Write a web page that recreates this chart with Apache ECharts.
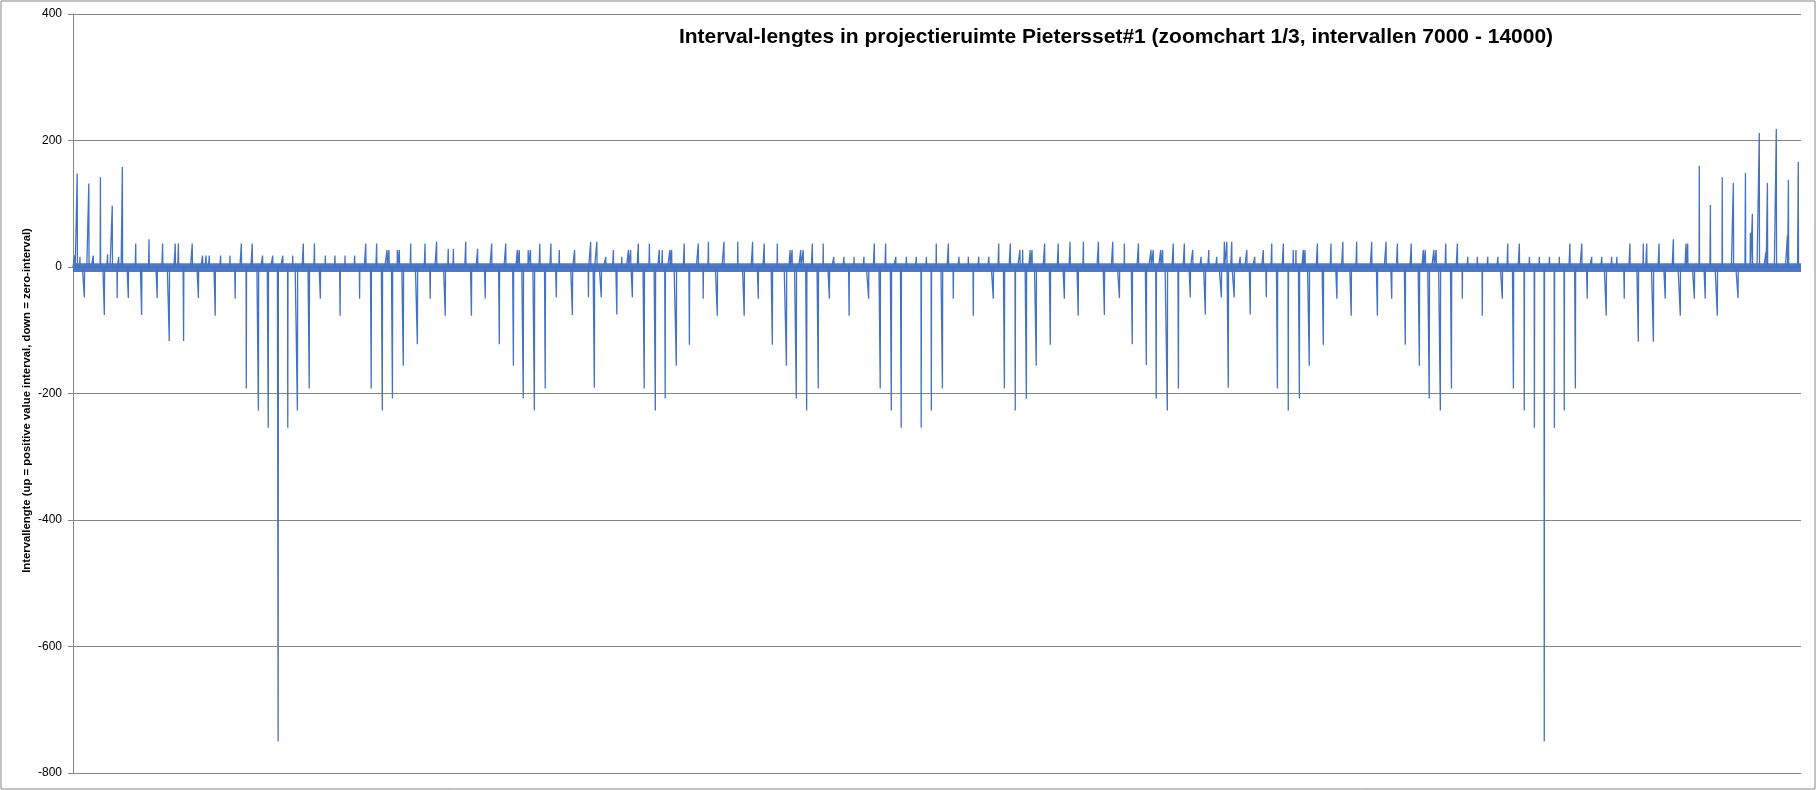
<!DOCTYPE html>
<html>
<head>
<meta charset="utf-8">
<title>Interval-lengtes Pietersset#1</title>
<script src="https://cdn.jsdelivr.net/npm/echarts@6/dist/echarts.min.js"></script>
<style>
	html, body { margin: 0; padding: 0; background: #fff; }
	#chart { width: 1816px; height: 790px; }
</style>
</head>
<body>
<div id="chart"></div>
<script>
// interval range shown on the x axis
var firstInterval = 7000;
var lastInterval = 14000;

// y axis ticks
var yMin = -800;
var yMax = 400;
var yStep = 200;

// deep downward spikes (zero-intervals): [interval, length]
var spikesDown = [
	[7046, -48], [7127, -76], [7179, -49], [7224, -49], [7278, -76], [7341, -49], [7390, -117], [7448, -117],
	[7508, -49], [7576, -77], [7657, -50], [7702, -192], [7751, -227], [7791, -254], [7831, -750], [7870, -254],
	[7909, -227], [7957, -192], [8002, -50], [8082, -77], [8161, -50], [8208, -192], [8253, -227], [8294, -208],
	[8338, -156], [8395, -122], [8447, -50], [8508, -77], [8614, -77], [8670, -50], [8727, -122], [8784, -156],
	[8824, -208], [8869, -227], [8913, -192], [8958, -48], [9023, -76], [9088, -48], [9112, -191], [9140, -48],
	[9203, -75], [9266, -48], [9314, -192], [9359, -227], [9399, -208], [9444, -156], [9497, -123], [9553, -50],
	[9610, -77], [9719, -77], [9776, -50], [9833, -123], [9890, -156], [9930, -208], [9972, -227], [10019, -192],
	[10064, -50], [10144, -77], [10223, -50], [10270, -192], [10315, -227], [10355, -254], [10436, -254], [10477, -227],
	[10522, -192], [10566, -50], [10647, -77], [10728, -50], [10773, -192], [10817, -227], [10862, -208], [10902, -156],
	[10959, -123], [11016, -50], [11072, -77], [11178, -76], [11239, -49], [11291, -122], [11348, -155], [11388, -208],
	[11433, -227], [11478, -192], [11526, -48], [11587, -75], [11652, -48], [11680, -191], [11704, -48], [11769, -75],
	[11834, -48], [11879, -192], [11923, -227], [11968, -208], [12008, -156], [12065, -123], [12120, -50], [12178, -77],
	[12284, -77], [12342, -50], [12397, -123], [12454, -156], [12494, -208], [12539, -227], [12584, -192], [12628, -50],
	[12709, -77], [12790, -50], [12835, -192], [12879, -227], [12920, -254], [12960, -750], [13001, -254], [13041, -227],
	[13086, -192], [13134, -50], [13211, -77], [13284, -50], [13341, -118], [13402, -118], [13450, -50], [13511, -77],
	[13568, -50], [13612, -50], [13661, -77], [13745, -49]
];

// tall upward spikes at both ends
var spikesUp = [
	[7017, 148], [7064, 132], [7111, 142], [7159, 97], [7200, 158],
	[13588, 160], [13633, 98], [13681, 142], [13726, 133], [13775, 149], [13795, 54], [13803, 84],
	[13831, 212], [13864, 133], [13900, 218], [13945, 50], [13949, 138], [13989, 166]
];

// small positive bumps along the baseline
var bumps = [
	[7008, 19], [7028, 16], [7082, 18], [7140, 20], [7185, 16],
	[7254, 37], [7308, 44], [7363, 37], [7414, 37], [7427, 37], [7483, 37], [7525, 18], [7539, 18],
	[7552, 18], [7598, 18], [7636, 18], [7682, 37], [7726, 37], [7768, 18], [7809, 18], [7850, 18],
	[7890, 18], [7933, 37], [7978, 37], [8022, 18], [8061, 18], [8102, 18], [8141, 18], [8186, 37],
	[8230, 37], [8272, 27], [8280, 27], [8314, 27], [8322, 27], [8368, 37], [8426, 37], [8473, 40],
	[8520, 29], [8541, 29], [8591, 40], [8639, 29], [8696, 37], [8753, 37], [8800, 27], [8808, 27],
	[8844, 27], [8853, 27], [8891, 37], [8936, 37], [8970, 27], [9032, 27], [9097, 40], [9122, 40],
	[9158, 16], [9189, 27], [9223, 16], [9250, 27], [9259, 27], [9290, 37], [9335, 37], [9375, 27],
	[9387, 27], [9418, 27], [9425, 27], [9476, 37], [9533, 37], [9574, 40], [9637, 40], [9693, 40],
	[9753, 40], [9800, 37], [9853, 37], [9905, 27], [9913, 27], [9948, 27], [9958, 27], [9995, 37],
	[10039, 37], [10082, 16], [10123, 16], [10164, 16], [10204, 16], [10246, 37], [10292, 37], [10333, 16],
	[10376, 16], [10416, 16], [10457, 16], [10497, 37], [10546, 37], [10589, 16], [10627, 16], [10669, 16],
	[10710, 16], [10750, 37], [10797, 37], [10836, 27], [10847, 27], [10877, 27], [10885, 27], [10936, 37],
	[10991, 37], [11039, 40], [11093, 40], [11154, 40], [11212, 40], [11259, 37], [11316, 37], [11367, 27],
	[11376, 27], [11406, 27], [11414, 27], [11457, 37], [11502, 37], [11536, 27], [11570, 16], [11601, 27],
	[11633, 16], [11664, 40], [11674, 40], [11694, 40], [11728, 16], [11755, 27], [11787, 16], [11822, 27],
	[11856, 37], [11903, 37], [11943, 27], [11954, 27], [11984, 27], [11991, 27], [12041, 37], [12096, 37],
	[12144, 40], [12200, 40], [12261, 40], [12319, 40], [12365, 37], [12421, 37], [12470, 27], [12478, 27],
	[12513, 27], [12522, 27], [12561, 37], [12608, 37], [12650, 16], [12689, 16], [12731, 16], [12772, 16],
	[12812, 37], [12859, 37], [12900, 16], [12940, 16], [12981, 16], [13021, 16], [13064, 37], [13112, 37],
	[13152, 16], [13193, 16], [13233, 16], [13254, 16], [13307, 37], [13361, 37], [13375, 37], [13425, 37],
	[13483, 44], [13534, 37], [13541, 37], [13858, 24]
];

// envelope of the dense noise around zero
var noiseLow = -8;
var noiseHigh = 6;

var blue = '#4472C4';
var gridGray = '#868686';

// one value per interval, zero unless a spike or bump was read there
var lengths = [];
for (var i = firstInterval; i <= lastInterval; i++) {
	lengths.push(0);
}
[bumps, spikesUp, spikesDown].forEach(function(list) {
	list.forEach(function(p) {
		lengths[p[0] - firstInterval] = p[1];
	});
});
var lineData = lengths.map(function(v, i) {
	return [firstInterval + i, v];
});

var myChart = echarts.init(document.getElementById('chart'), null, { renderer: 'canvas' });

var option = {
	backgroundColor: '#fff',
	animation: false,
	textStyle: { fontFamily: 'Liberation Sans, Arial, sans-serif' },
	title: {
		text: 'Interval-lengtes in projectieruimte Pietersset#1 (zoomchart 1/3, intervallen 7000 - 14000)',
		left: 1116,
		top: 27,
		padding: 0,
		textAlign: 'center',
		textStyle: {
			fontFamily: 'Liberation Sans, Arial, sans-serif',
			fontSize: 21,
			fontWeight: 'bold',
			color: '#000'
		}
	},
	graphic: [{
		type: 'rect',
		silent: true,
		shape: { x: 1, y: 1, width: 1814, height: 788 },
		style: { fill: null, stroke: gridGray, lineWidth: 1 }
	}],
	grid: {
		left: 73,
		right: 15,
		top: 14,
		bottom: 17
	},
	xAxis: {
		type: 'value',
		min: firstInterval,
		max: lastInterval,
		show: false
	},
	yAxis: {
		type: 'value',
		min: yMin,
		max: yMax,
		interval: yStep,
		name: 'Intervallengte (up = positive value interval, down = zero-interval)',
		nameLocation: 'middle',
		nameGap: 41,
		nameMoveOverlap: false,
		nameTextStyle: {
			fontSize: 11.3,
			fontWeight: 'bold',
			color: '#000',
			padding: [0, 14, 0, 0]
		},
		axisLine: { show: true, lineStyle: { color: gridGray, width: 1 } },
		axisTick: { show: true, length: 5, lineStyle: { color: gridGray } },
		axisLabel: { margin: 11, fontSize: 12, color: '#000' },
		splitLine: { show: true, lineStyle: { color: gridGray, width: 1 } }
	},
	series: [{
		name: 'ruis',
		type: 'line',
		silent: true,
		symbol: 'none',
		data: [[firstInterval, noiseHigh], [lastInterval, noiseHigh]],
		lineStyle: { width: 0 },
		areaStyle: { color: blue, opacity: 0.95, origin: noiseLow },
		z: 1
	}, {
		name: 'Intervallengte',
		type: 'line',
		symbol: 'none',
		sampling: null,
		data: lineData,
		lineStyle: { color: blue, width: 1.3 },
		z: 2
	}]
};

myChart.setOption(option);
</script>
</body>
</html>
